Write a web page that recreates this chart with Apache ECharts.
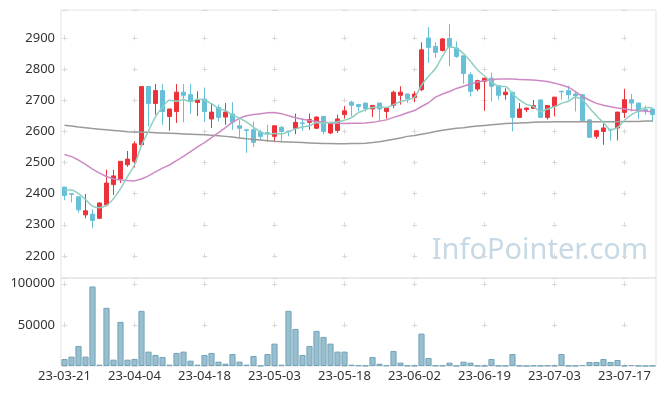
<!DOCTYPE html>
<html><head><meta charset="utf-8">
<script src="https://cdn.jsdelivr.net/npm/echarts@6/dist/echarts.min.js"></script>
<style>html,body{margin:0;padding:0;background:#fff}#c{width:665px;height:396px}</style>
</head><body><div id="c"></div>
<script>
const dates = [
 '23-03-21','23-03-22','23-03-23','23-03-24','23-03-27','23-03-28','23-03-29','23-03-30','23-03-31',
 '23-04-03','23-04-04','23-04-05','23-04-06','23-04-07','23-04-10','23-04-11','23-04-12','23-04-13','23-04-14','23-04-17','23-04-18','23-04-19','23-04-20','23-04-21','23-04-24','23-04-25','23-04-26','23-04-27','23-04-28',
 '23-05-02','23-05-03','23-05-04','23-05-08','23-05-09','23-05-10','23-05-11','23-05-12','23-05-15','23-05-16','23-05-17','23-05-18','23-05-19','23-05-22','23-05-23','23-05-24','23-05-25','23-05-26','23-05-30','23-05-31',
 '23-06-01','23-06-02','23-06-05','23-06-07','23-06-08','23-06-09','23-06-12','23-06-13','23-06-14','23-06-15','23-06-16','23-06-19','23-06-20','23-06-21','23-06-22','23-06-23','23-06-26','23-06-27','23-06-28','23-06-29','23-06-30',
 '23-07-03','23-07-04','23-07-05','23-07-06','23-07-07','23-07-10','23-07-11','23-07-12','23-07-13','23-07-14','23-07-17','23-07-18','23-07-19','23-07-20','23-07-21'
];
const opens = [2421,2400,2390,2332,2334,2321,2364,2429,2447,2493, 2504,2557,2744,2690,2731,2648,2664,2726,2718,2693, 2704,2640,2677,2646,2656,2618,2605,2605,2598,2596, 2584,2613,2601,2610,2627,2629,2610,2648,2595,2603, 2654,2694,2686,2691,2672,2691,2664,2684,2716,2720, 2709,2734,2900,2873,2860,2898,2868,2843,2782,2736, 2761,2771,2747,2718,2726,2645,2670,2674,2701,2645, 2680,2729,2731,2720,2718,2637,2584,2600,2606,2611, 2661,2702,2691,2670,2672];
const closes = [2394,2398,2348,2345,2314,2370,2434,2457,2504,2511, 2560,2744,2690,2731,2664,2672,2726,2716,2699,2702, 2664,2662,2645,2662,2630,2610,2603,2565,2584,2594, 2618,2600,2599,2629,2626,2638,2646,2600,2629,2640, 2666,2684,2680,2673,2683,2672,2675,2726,2726,2705, 2720,2862,2870,2854,2897,2871,2841,2786,2729,2763, 2771,2745,2716,2726,2645,2672,2675,2683,2645,2683, 2710,2727,2718,2714,2634,2581,2602,2611,2604,2662, 2702,2691,2664,2667,2654];
const lows = [2379,2372,2339,2321,2289,2318,2359,2396,2434,2486, 2484,2557,2616,2654,2621,2602,2627,2629,2657,2650, 2630,2611,2632,2621,2605,2579,2531,2550,2573,2566, 2565,2570,2584,2591,2602,2605,2608,2591,2591,2595, 2641,2648,2664,2664,2646,2632,2641,2675,2686,2691, 2694,2729,2820,2836,2857,2809,2836,2753,2712,2729, 2666,2696,2702,2702,2600,2644,2662,2673,2643,2638, 2648,2702,2702,2664,2632,2580,2576,2557,2570,2571, 2643,2664,2640,2654,2630];
const highs = [2421,2401,2390,2399,2350,2372,2477,2477,2504,2537, 2568,2744,2744,2752,2752,2672,2752,2752,2752,2729, 2741,2691,2686,2691,2694,2638,2606,2632,2605,2621, 2618,2618,2602,2657,2643,2657,2648,2650,2629,2654, 2682,2699,2687,2692,2683,2692,2676,2731,2745,2721, 2729,2886,2935,2886,2900,2945,2889,2843,2790,2766, 2772,2788,2748,2739,2727,2691,2676,2701,2702,2684, 2711,2730,2747,2729,2718,2640,2605,2630,2607,2663, 2737,2720,2692,2683,2673];
const volumes = [8500,11400,24400,11400,96700,1600,70700,7700,53700,7700, 8500,67100,17500,13400,11000,1600,15900,17500,6500,1600, 13400,15900,5300,2800,14600,5300,1600,12200,500,14600, 27200,1600,67100,45100,13400,24400,42700,35400,27200,17500, 17500,1600,800,400,11000,2800,800,18300,4100,600, 600,39400,9800,600,600,4100,300,5300,4100,300, 300,8500,300,300,14600,300,0,600,300,600, 600,14600,300,300,1200,4900,4900,8500,4900,7300, 600,1200,300,0,300];
const ma5 = [2412,2412,2400,2381,2360,2355,2362,2384,2416,2455, 2493,2555,2602,2647,2678,2700,2697,2702,2695,2703, 2701,2689,2674,2667,2653,2642,2630,2614,2598,2591, 2593,2592,2599,2608,2614,2618,2628,2628,2628,2631, 2636,2644,2660,2669,2677,2678,2677,2686,2696,2701, 2710,2748,2777,2802,2841,2871,2867,2850,2825,2798, 2778,2759,2745,2744,2721,2701,2687,2680,2664,2672, 2679,2690,2697,2710,2701,2675,2650,2628,2606,2612, 2636,2654,2665,2677,2676];
const ma20 = [2526,2519,2508,2494,2479,2466,2455,2447,2444,2442, 2441,2447,2457,2470,2482,2492,2506,2520,2535,2550, 2564,2580,2596,2612,2630,2642,2650,2654,2657,2660, 2661,2657,2650,2644,2639,2635,2632,2630,2627,2626, 2625,2626,2626,2627,2629,2633,2637,2645,2652,2660, 2667,2680,2692,2710,2720,2728,2738,2745,2752,2759, 2763,2766,2768,2768,2768,2767,2766,2765,2763,2760, 2755,2749,2742,2728,2712,2700,2690,2684,2679,2675, 2672,2669,2667,2665,2663];
const ma60 = [2620,2617,2614,2612,2609,2607,2605,2603,2601,2599, 2598,2597,2597,2596,2595,2594,2593,2592,2591,2590, 2589,2588,2586,2584,2582,2579,2576,2574,2572,2570, 2568,2567,2566,2565,2564,2563,2562,2561,2561,2560, 2560,2561,2561,2562,2564,2567,2571,2575,2579,2584, 2587,2591,2595,2600,2604,2607,2610,2612,2615,2617, 2619,2621,2623,2625,2626,2627,2628,2629,2630,2630, 2631,2631,2631,2631,2631,2631,2631,2631,2631,2631, 2632,2632,2632,2633,2633];

const candleData = opens.map((o, i) => [o, closes[i], lows[i], highs[i]]);
const FONT = 'Noto Sans';
const every10 = (i) => i % 10 === 0;
const plain = (v) => String(v);
const chart = echarts.init(document.getElementById('c'), null, {renderer: 'canvas'});
const crossH = {show: true, lineStyle: {color: '#d9d9d9', width: 1, type: [5, 64.94], dashOffset: -1.5}};
chart.setOption({
  animation: false,
  backgroundColor: '#ffffff',
  textStyle: {fontFamily: FONT},
  grid: [
    {left: 61, right: 9, top: 10, height: 268, show: true, borderColor: '#e3e3e3', borderWidth: 1, containLabel: false},
    {left: 61, right: 9, top: 278, height: 88, show: true, borderColor: '#e3e3e3', borderWidth: 1, containLabel: false}
  ],
  graphic: [{
    type: 'text', right: 17, top: 236, z: 0,
    style: {text: 'InfoPointer.com', font: '29px "Noto Sans"', fill: '#c6d9e4'}
  }],
  xAxis: [
    {type: 'category', gridIndex: 0, data: dates, boundaryGap: true,
     axisLine: {show: false}, axisTick: {show: false}, axisLabel: {show: false},
     splitLine: {show: true, interval: (i) => every10(i), alignWithLabel: true,
       lineStyle: {color: '#d9d9d9', width: 1, type: [5, 26.14], dashOffset: -25.5}}},
    {type: 'category', gridIndex: 1, data: dates, boundaryGap: true,
     axisLine: {show: false}, axisTick: {show: false},
     axisLabel: {interval: (i) => every10(i), color: '#333', fontSize: 13, fontFamily: FONT, margin: 4},
     splitLine: {show: true, interval: (i) => every10(i), alignWithLabel: true,
       lineStyle: {color: '#d9d9d9', width: 1, type: [5, 36.1], dashOffset: -3.3}}}
  ],
  yAxis: [
    {type: 'value', gridIndex: 0, min: 2129, max: 2990, minInterval: 100, maxInterval: 100, splitNumber: 8,
     axisLine: {show: false}, axisTick: {show: false},
     axisLabel: {color: '#333', fontSize: 13, fontFamily: FONT, margin: 6, showMinLabel: false, showMaxLabel: false, formatter: plain},
     splitLine: crossH},
    {type: 'value', gridIndex: 1, min: 0, max: 107000, interval: 50000,
     axisLine: {show: false}, axisTick: {show: false},
     axisLabel: {color: '#333', fontSize: 13, fontFamily: FONT, margin: 6, showMinLabel: false, showMaxLabel: false, formatter: plain},
     splitLine: crossH}
  ],
  series: [
    {type: 'candlestick', name: 'price', xAxisIndex: 0, yAxisIndex: 0, data: candleData, barWidth: 5,
     itemStyle: {color: '#ec3238', color0: '#67bfd8', borderColor: '#ec3238', borderColor0: '#67bfd8', borderWidth: 1}},
    {type: 'line', name: 'MA60', data: ma60, xAxisIndex: 0, yAxisIndex: 0, symbol: 'none',
     lineStyle: {color: '#9a9a9a', width: 1.5}},
    {type: 'line', name: 'MA20', data: ma20, xAxisIndex: 0, yAxisIndex: 0, symbol: 'none',
     lineStyle: {color: '#cc8ac4', width: 1.5}},
    {type: 'line', name: 'MA5', data: ma5, xAxisIndex: 0, yAxisIndex: 0, symbol: 'none', smooth: 0.3,
     lineStyle: {color: '#8ecfc3', width: 1.5}},
    {type: 'bar', name: 'volume', data: volumes, xAxisIndex: 1, yAxisIndex: 1, barCategoryGap: '12%',
     itemStyle: {color: '#98bfcf', borderColor: '#74a3b8', borderWidth: 1}}
  ]
});
</script>
</body></html>
